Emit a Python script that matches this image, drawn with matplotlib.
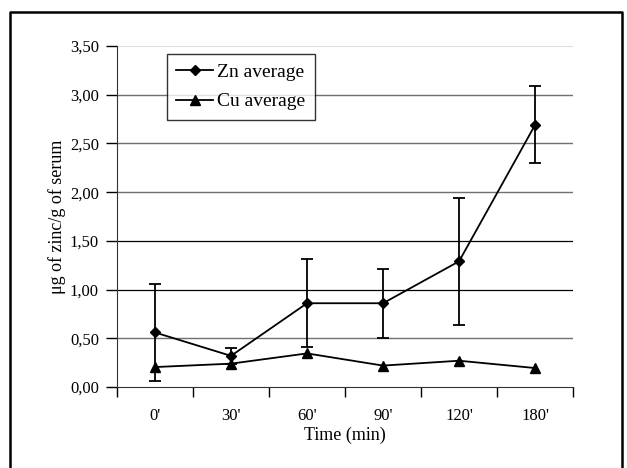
import numpy as np
import matplotlib.pyplot as plt
from matplotlib.lines import Line2D

plt.rcParams['font.family'] = ['Liberation Serif', 'DejaVu Serif']

# data
times = ["0'", "30'", "60'", "90'", "120'", "180'"]
zn_avg = [0.56, 0.32, 0.86, 0.86, 1.29, 2.69]
zn_err = [0.50, 0.08, 0.45, 0.355, 0.65, 0.395]
cu_avg = [0.205, 0.24, 0.345, 0.22, 0.27, 0.195]
y_ticks = [0.0, 0.5, 1.0, 1.5, 2.0, 2.5, 3.0, 3.5]


def main():
    fig = plt.figure(figsize=(6.27, 4.68), dpi=100)
    ax = fig.add_axes([0.1866, 0.173, 0.7274, 0.7287])

    x = np.arange(len(times)) + 0.5

    # horizontal grid lines
    for v in y_ticks[1:]:
        if v == 3.5:
            col, lw = "#dddddd", 0.8
        elif v in (1.0, 1.5):
            col, lw = "black", 0.9
        else:
            col, lw = "#707070", 1.0
        ax.axhline(v, color=col, lw=lw, zorder=0)

    ax.errorbar(x, zn_avg, yerr=zn_err, color="black", marker="D",
                markersize=5.5, lw=1.3, elinewidth=1.3, capsize=4,
                capthick=1.3, label="Zn average", zorder=3)
    ax.plot(x, cu_avg, color="black", marker="^", markersize=7, lw=1.3,
            label="Cu average", zorder=3)

    ax.set_xlim(0, len(times))
    ax.set_ylim(0, 3.5)
    ax.set_xticks(np.arange(len(times) + 1))
    ax.set_xticklabels([])
    ax.set_xticks(x, minor=True)
    ax.set_xticklabels(times, minor=True)
    ax.tick_params(axis="x", which="minor", length=0, pad=15, labelsize=12)
    ax.tick_params(axis="x", which="major", direction="out", length=7,
                   width=1)
    ax.set_yticks(y_ticks)
    ax.set_yticklabels([f"{v:.2f}".replace(".", ",") for v in y_ticks])
    ax.tick_params(axis="y", direction="out", length=8, width=1,
                   labelsize=12, pad=5)

    for s in ["top", "right"]:
        ax.spines[s].set_visible(False)
    ax.spines["left"].set_color("#333333")
    ax.spines["bottom"].set_color("#333333")

    ax.set_xlabel("Time (min)", fontsize=13, labelpad=2)
    ax.set_ylabel("\u03bcg of zinc/g of serum", fontsize=13, labelpad=3)

    handles = [
        Line2D([], [], color="black", marker="D", markersize=5.5, lw=1.3),
        Line2D([], [], color="black", marker="^", markersize=7, lw=1.3),
    ]
    leg = ax.legend(handles, ["Zn average", "Cu average"],
                    loc="upper left", bbox_to_anchor=(0.109, 0.977),
                    fontsize=14, frameon=True, fancybox=False,
                    edgecolor="black", handlelength=1.9, handletextpad=0.2,
                    borderpad=0.5, labelspacing=0.6, borderaxespad=0)
    leg.get_frame().set_linewidth(1.0)
    leg.set_zorder(5)

    # outer frame (bottom edge cut off in the reference)
    fl, fr, ft = 10 / 627, 622 / 627, 1 - 12 / 468
    fig.add_artist(Line2D([fl, fl, fr, fr], [0, ft, ft, 0],
                          transform=fig.transFigure, color="black", lw=1.8))

    fig.savefig("out.png", dpi=100)


if __name__ == "__main__":
    main()
